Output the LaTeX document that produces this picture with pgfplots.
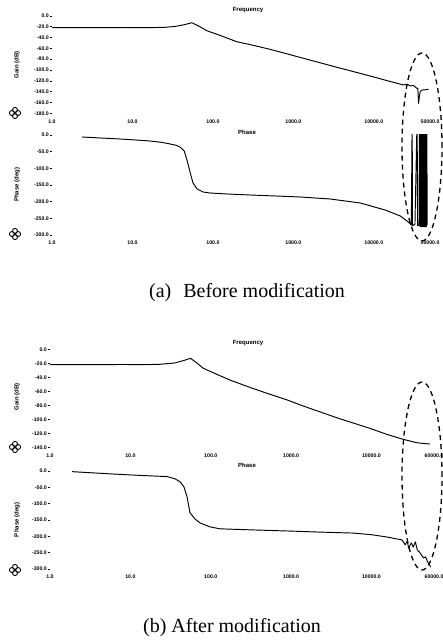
\documentclass[border=0pt]{standalone}
\usepackage{fontspec}
\setmainfont{Liberation Serif}
\setsansfont{Liberation Sans}
\usepackage{pgfplots}
\pgfplotsset{compat=1.18}
\newcommand{\tk}{\fontsize{5.2}{5.5}\selectfont\sffamily\bfseries}
\newcommand{\ttl}{\fontsize{6}{7}\selectfont\sffamily\bfseries}
\pgfplotsset{
  tick label style={font=\tk},
  yticklabel style={/pgf/number format/fixed, /pgf/number format/fixed zerofill, /pgf/number format/precision=1, inner sep=1pt},
  xticklabel style={anchor=center, yshift=-8pt},
  xtick style={draw=none},
  ytick style={black, line width=0.5pt},
}
\tikzset{crv/.style={black, no marks, line width=0.95pt, line join=round}}
\begin{document}
\begin{tikzpicture}
\path[use as bounding box] (0,0) rectangle (443pt,644pt);
% (a) gain
\begin{axis}[scale only axis, xmode=log, axis lines*=left, axis line style={draw=none},
  xminorticks=false, yminorticks=false, /pgf/number format/assume math mode=true,
  ytick align=outside, major tick length=2pt,
  at={(52pt,530.7pt)}, anchor=south west, width=378pt, height=97.4pt,
  xmin=1, xmax=50000, ymin=-180, ymax=0, ytick={0,-20,...,-180},
  xtick={1,10,100,1000,10000,50000}, xticklabels={1.0,10.0,100.0,1000.0,10000.0,50000.0}]
\addplot[crv] coordinates {(1,-21.5) (3,-21.8) (8,-21.5) (15,-21.8) (25,-21.2) (34,-19.5) (45,-16) (54.7,-12.6) (68,-19.5) (84,-27.4) (120,-35.5) (198,-47.7) (320,-54.5) (514,-61.8) (850,-70.5) (1336,-78.4) (2200,-87) (3475,-95) (5600,-103) (9020,-111.1) (14500,-119.5) (23400,-127.7) (26000,-126.5) (28500,-129.5) (31000,-128.5) (34400,-133.8) (35300,-134) (36000,-161.6) (36800,-150) (37700,-140) (40000,-137) (43700,-136.5) (47900,-135.7)};
\end{axis}
% (a) phase
\begin{axis}[scale only axis, xmode=log, axis lines*=left, axis line style={draw=none},
  xminorticks=false, yminorticks=false, /pgf/number format/assume math mode=true,
  ytick align=outside, major tick length=2pt,
  at={(52pt,409pt)}, anchor=south west, width=378pt, height=100pt,
  xmin=1, xmax=50000, ymin=-300, ymax=0, ytick={0,-50,...,-300},
  xtick={1,10,100,1000,10000,50000}, xticklabels={1.0,10.0,100.0,1000.0,10000.0,50000.0}]
\addplot[crv] coordinates {(2.36,-6) (4,-9) (7,-12) (11,-15) (16.5,-18) (23,-22) (29.4,-27) (35,-31) (39,-36) (44,-48) (47.6,-75) (52,-111) (56.6,-144) (63.6,-162) (75.5,-171) (92,-174) (150,-177) (290,-180) (600,-183) (1220,-186) (2870,-192) (6800,-204) (13800,-225) (21400,-243) (26900,-261) (29300,-270)
 (30000,60) (30300,-272) (32500,-268) (34600,60) (35000,-272) (36500,-270) (37000,60) (37500,-274)
 (37800,50) (38100,-275) (38500,50) (38900,-275) (39200,50) (39600,-275) (40000,50) (40400,-275) (40800,50) (41200,-275) (41600,50) (42000,-275) (42400,50) (42800,-275) (43200,50) (43600,-275) (44000,50) (44400,-275) (44800,50) (45200,-275) (45700,50) (46100,-270)};
\end{axis}
% (b) gain
\begin{axis}[scale only axis, xmode=log, axis lines*=left, axis line style={draw=none},
  xminorticks=false, yminorticks=false, /pgf/number format/assume math mode=true,
  ytick align=outside, major tick length=2pt,
  at={(50pt,196.7pt)}, anchor=south west, width=384pt, height=98pt,
  xmin=1, xmax=60000, ymin=-140, ymax=0, ytick={0,-20,...,-140},
  xtick={1,10,100,1000,10000,60000}, xticklabels={1.0,10.0,100.0,1000.0,10000.0,60000.0}]
\addplot[crv] coordinates {(1,-21.8) (3,-22) (8,-21.7) (15,-22) (23.3,-21.4) (36,-19.5) (47.7,-15.5) (56.2,-12.9) (67,-19.5) (80.7,-27.1) (110,-34) (173,-43.9) (300,-54) (545,-64.3) (900,-72.5) (1414,-81) (2300,-89.5) (3680,-97.7) (6000,-105.5) (9550,-112.9) (15400,-121.4) (24800,-128.6) (36400,-133.4) (45000,-134.6) (53200,-135.3)};
\end{axis}
% (b) phase
\begin{axis}[scale only axis, xmode=log, axis lines*=left, axis line style={draw=none},
  xminorticks=false, yminorticks=false, /pgf/number format/assume math mode=true,
  ytick align=outside, major tick length=2pt,
  at={(50pt,75pt)}, anchor=south west, width=384pt, height=98pt,
  xmin=1, xmax=60000, ymin=-300, ymax=0, ytick={0,-50,...,-300},
  xtick={1,10,100,1000,10000,60000}, xticklabels={1.0,10.0,100.0,1000.0,10000.0,60000.0}]
\addplot[crv] coordinates {(1.88,-2) (4.2,-7) (9.9,-12) (18,-15) (28.6,-17) (36,-24) (41.5,-33) (46.5,-49) (50.7,-79) (55.2,-128) (63.8,-147) (73.5,-159) (97.9,-171) (130,-177) (400,-181) (1000,-184) (2270,-187) (5900,-190) (10000,-195) (15500,-202) (24000,-211) (26300,-226) (27900,-214) (29000,-236) (31300,-220) (33100,-233) (35200,-217) (37200,-242) (39500,-248) (41800,-257) (44500,-266) (47100,-263) (50000,-278) (54500,-294)};
\end{axis}
% titles and labels
\node[font=\ttl] at (248pt,634pt) {Frequency};
\node[font=\ttl] at (247pt,512pt) {Phase};
\node[font=\ttl] at (248pt,301pt) {Frequency};
\node[font=\ttl] at (247pt,179pt) {Phase};
\node[font=\ttl, rotate=90] at (17pt,579pt) {Gain (dB)};
\node[font=\ttl, rotate=90] at (17pt,459pt) {Phase (deg)};
\node[font=\ttl, rotate=90] at (17pt,247pt) {Gain (dB)};
\node[font=\ttl, rotate=90] at (17pt,124pt) {Phase (deg)};
% icons
\foreach \ix/\iy in {15/531,15/410,15/197,15/74} {
  \begin{scope}[xshift=\ix pt, yshift=\iy pt, line width=0.9pt]
    \draw (0pt,3.1pt) circle (2.5pt); \draw (0pt,-3.1pt) circle (2.5pt);
    \draw (3.1pt,0pt) circle (2.5pt); \draw (-3.1pt,0pt) circle (2.5pt);
  \end{scope}}
% dashed ellipses
\draw[line width=1.3pt, dash pattern=on 5pt off 4pt] (422pt,497pt) ellipse [x radius=20pt, y radius=94pt];
\draw[line width=1.3pt, dash pattern=on 5pt off 4pt] (422pt,168pt) ellipse [x radius=20pt, y radius=94pt];
% captions
\node[font=\fontsize{20}{24}\selectfont] at (247pt,351pt) {(a)\hspace{0.6em}Before modification};
\node[font=\fontsize{20}{24}\selectfont] at (232pt,16pt) {(b) After modification};
\end{tikzpicture}
\end{document}
